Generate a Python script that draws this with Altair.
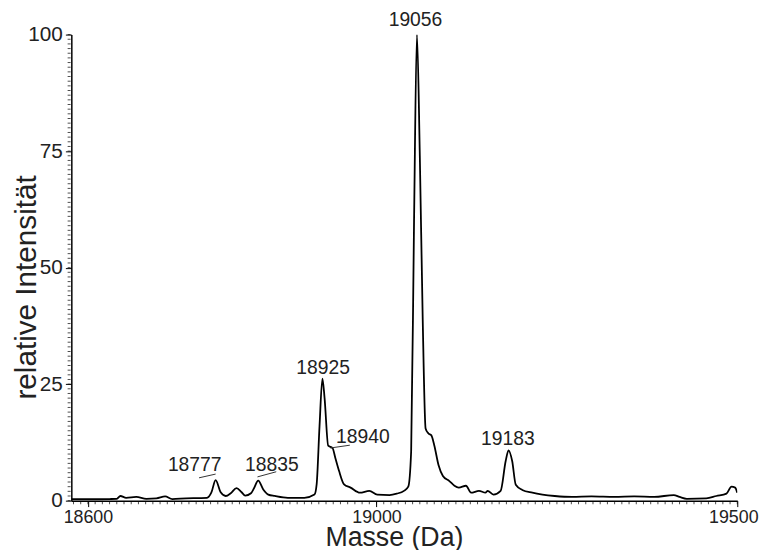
import altair as alt
import pandas as pd

# Spectrum
mass = [18577, 18603, 18630, 18640, 18645, 18653, 18667, 18681, 18695, 18707,
        18717, 18736, 18754, 18765, 18771, 18777, 18784, 18791, 18798, 18806,
        18813, 18818, 18826, 18830, 18836, 18843, 18850, 18859, 18877, 18900,
        18914, 18917, 18921, 18925, 18928, 18933, 18939, 18943, 18948, 18955,
        18964, 18977, 18990, 19001, 19018, 19028, 19038, 19044, 19048, 19052,
        19056, 19060, 19064, 19068, 19072, 19076, 19080, 19086, 19092, 19101,
        19108, 19114, 19124, 19131, 19142, 19151, 19154, 19162, 19172, 19179,
        19183, 19188, 19193, 19202, 19216, 19230, 19247, 19271, 19298, 19330,
        19357, 19385, 19412, 19420, 19430, 19457, 19471, 19485, 19492, 19497,
        19500]
intensity = [0.3, 0.3, 0.35, 0.4, 1.0, 0.6, 0.8, 0.4, 0.5, 0.9,
             0.35, 0.5, 0.55, 0.6, 1.7, 4.4, 1.8, 1.0, 1.6, 2.7,
             1.8, 1.1, 1.6, 2.6, 4.3, 2.4, 1.3, 1.0, 0.6, 0.6,
             1.3, 3.5, 16.0, 26.2, 22.0, 11.8, 11.3, 9.1, 6.4, 3.5,
             2.8, 1.7, 2.1, 1.3, 1.2, 1.5, 2.1, 3.0, 10.6, 60.0,
             100.0, 74.0, 39.0, 15.5, 14.4, 14.0, 11.9, 7.6, 5.3, 4.2,
             3.2, 2.8, 3.2, 1.7, 2.1, 1.7, 2.1, 1.3, 2.1, 8.5,
             10.8, 8.5, 3.4, 2.3, 1.7, 1.3, 1.0, 0.8, 0.9, 0.8,
             0.9, 0.8, 1.2, 0.8, 0.4, 0.5, 1.0, 1.5, 3.0, 2.8,
             1.7]

# Peak annotations
ann_text = ["18777", "18835", "18925", "18940", "19056", "19183"]
ann_mass = [18748, 18855, 18926, 18981, 19054, 19182]
ann_val = [7.6, 7.6, 28.5, 13.6, 103.2, 13.2]

# Leader lines (from label to peak)
lead_m1 = [18754, 18835, 18936]
lead_v1 = [4.9, 5.1, 11.3]
lead_m2 = [18777, 18861, 18963]
lead_v2 = [5.7, 6.2, 11.9]

# Axis ticks
x_ticks_major = [18600, 19000, 19500]
y_ticks_major = [0, 25, 50, 75, 100]
x_ticks_minor = list(range(18580, 19501, 10))
y_ticks_minor = list(range(0, 101, 1))

X_MIN, X_MAX = 18577, 19500

FONT = "Liberation Sans"
TXT = "#222222"

spec = pd.DataFrame({"m": mass, "v": intensity})
ann = pd.DataFrame({"t": ann_text, "m": ann_mass, "v": ann_val})
lead = pd.DataFrame({"m1": lead_m1, "v1": lead_v1, "m2": lead_m2, "v2": lead_v2})
xmin_df = pd.DataFrame({"m": x_ticks_minor, "v": [0] * len(x_ticks_minor)})
ymin_df = pd.DataFrame({"m": [X_MIN] * len(y_ticks_minor), "v": y_ticks_minor})

xscale = alt.Scale(domain=[X_MIN, X_MAX], nice=False, zero=False)
yscale = alt.Scale(domain=[0, 100], nice=False)

x_axis = alt.Axis(values=x_ticks_major, tickSize=6,
                  labelOffset={"condition": {"test": "datum.value === 19500", "value": -4}, "value": 0},
                  title="Masse (Da)", orient="bottom", format="d",
                  labelFontSize=18, titleFontSize=27, labelPadding=2,
                  titleX=326, titleY=45, titleBaseline="alphabetic",
                  labelFlush=False, labelOverlap=False)
y_axis = alt.Axis(values=y_ticks_major, tickSize=6,
                  orient="left", title="relative Intensität",
                  labelFontSize=21, titleFontSize=30, labelPadding=3,
                  titleX=-36, titleY=255, titleAngle=-90,
                  titleBaseline="alphabetic", titleAlign="center",
                  labelOverlap=False)

X = alt.X("m:Q", scale=xscale, axis=x_axis)
Y = alt.Y("v:Q", scale=yscale, axis=y_axis)

main = alt.Chart(spec).mark_line(color="black", strokeWidth=1.8, clip=True,
                                 interpolate="monotone").encode(x=X, y=Y)

xminor = alt.Chart(xmin_df).mark_tick(orient="vertical", size=3, thickness=1,
                                      color="black", yOffset=2.25).encode(x=X, y=Y)
yminor = alt.Chart(ymin_df).mark_tick(orient="horizontal", size=3, thickness=1,
                                      color="black", xOffset=-2.25).encode(x=X, y=Y)

texts = alt.Chart(ann).mark_text(font=FONT, fontSize=19.5, color=TXT,
                                 baseline="middle", align="center").encode(
    x=X, y=Y, text="t:N",
)

leaders = alt.Chart(lead).mark_rule(color="#333333", strokeWidth=1).encode(
    x=alt.X("m1:Q", scale=xscale, axis=x_axis),
    y=alt.Y("v1:Q", scale=yscale, axis=y_axis),
    x2="m2:Q",
    y2="v2:Q",
)

chart = alt.layer(main, xminor, yminor, leaders, texts).properties(
    width=673, height=471,
    autosize=alt.AutoSizeParams(type="none"),
    padding={"left": 64, "top": 24, "right": 27, "bottom": 47},
).configure_view(stroke=None).configure_axis(
    domainColor="black", domainWidth=1.5, tickColor="black", tickWidth=1,
    labelFont=FONT, titleFont=FONT, labelColor=TXT, titleColor=TXT,
    grid=False, titleFontWeight="normal",
)

chart.save("out.html", embed_options={"renderer": "svg", "actions": False})
